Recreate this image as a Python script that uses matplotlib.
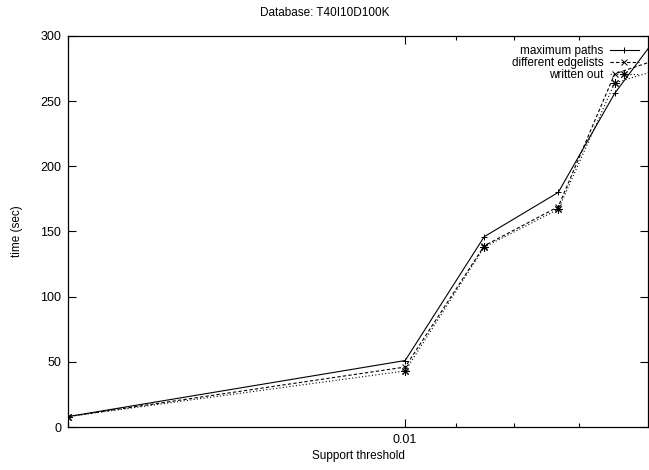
import matplotlib
matplotlib.use('Agg')
import matplotlib.pyplot as plt
from matplotlib.ticker import FixedLocator, NullFormatter, FixedFormatter

plt.rcParams['font.family'] = ['Liberation Sans', 'DejaVu Sans']

# support thresholds (x axis is log, reversed)
support = [0.02, 0.01, 0.0085, 0.0073, 0.0065, 0.006]
max_paths = [8, 51, 146, 180, 256, 296]
edgelists = [8, 46, 139, 169, 271, 281]
written_out = [8, 43, 138, 167, 264, 273]

y_ticks = [0, 50, 100, 150, 200, 250, 300]
x_major = [0.01]
x_minor = [0.02, 0.009, 0.008, 0.007]

fig = plt.figure(figsize=(6.49, 4.70), dpi=100)
ax = fig.add_axes([68 / 649, 1 - 427 / 470, 580 / 649, 391 / 470])

ax.plot(support, max_paths, color='black', lw=0.8, ls='-', marker='+', ms=5,
        mew=0.7, label='maximum paths')
ax.plot(support, edgelists, color='black', lw=0.8, ls=(0, (3, 2)), marker='x', ms=4,
        mew=0.7, label='different edgelists')
ax.plot(support, written_out, color='black', lw=0.8, ls=(0, (1, 2)), marker=(8, 2, 0),
        ms=6, mew=0.7, label='written out')

ax.set_xscale('log')
ax.set_xlim(0.02, 0.00607)
ax.set_ylim(0, 300)
ax.xaxis.set_major_locator(FixedLocator(x_major))
ax.xaxis.set_major_formatter(FixedFormatter(['0.01']))
ax.xaxis.set_minor_locator(FixedLocator(x_minor))
ax.xaxis.set_minor_formatter(NullFormatter())
ax.set_yticks(y_ticks)

ax.tick_params(which='both', direction='in', top=True, right=True, labelsize=9,
               width=0.8, pad=5)
ax.tick_params(which='major', length=6)
ax.tick_params(which='minor', length=3)
for s in ax.spines.values():
    s.set_linewidth(0.9)

fig.text(0.5, 1 - 13 / 470, 'Database: T40I10D100K', fontsize=8.5, ha='center', va='center')
ax.set_xlabel('Support threshold', fontsize=8.5, labelpad=3)
ax.set_ylabel('time (sec)', fontsize=8.5, labelpad=12)

ax.legend(loc='upper right', frameon=False, markerfirst=False, fontsize=8.5,
          handlelength=2.5, handletextpad=0.5, labelspacing=0.0,
          borderaxespad=0.4, borderpad=0.35)

fig.savefig('out.png', dpi=100)
